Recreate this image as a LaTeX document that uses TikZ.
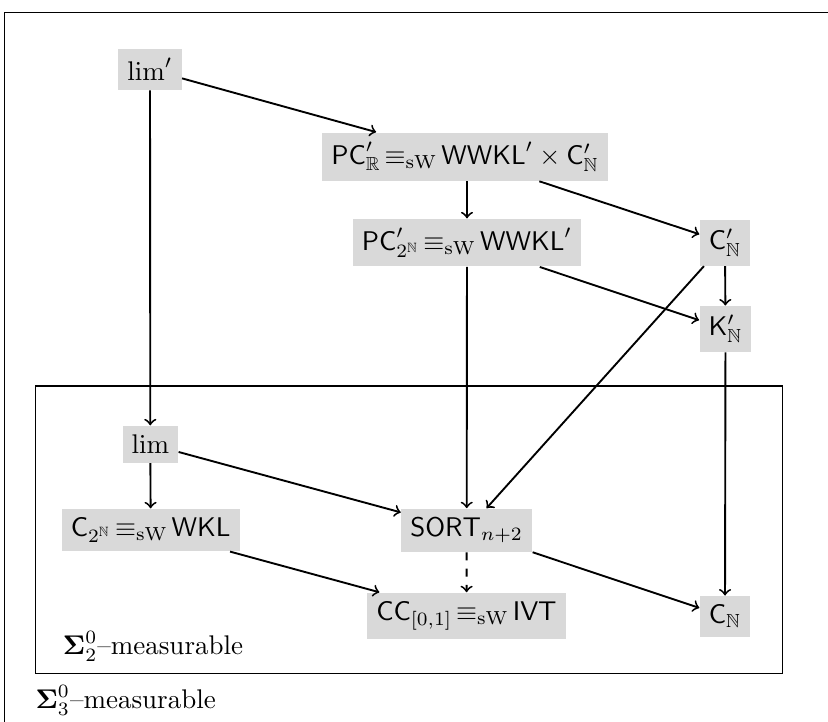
\documentclass[tikz,border=0pt]{standalone}
\usepackage{amsmath,amssymb}
\newcommand{\sweq}{\mkern2.5mu\mathord{\equiv_{\mathrm{sW}}}\mkern2.5mu}
\begin{document}
\begin{tikzpicture}[x=0.37037pt,y=-0.37037pt,
  box/.style={fill=black!15, inner sep=0.3333em},
  arr/.style={->, line width=0.7pt},
  frame/.style={line width=0.45pt},
  lab/.style={anchor=base west, inner sep=0pt}]
\useasboundingbox (0,0) rectangle (828,722);
\clip (0,0) rectangle (828,722);
\draw[frame] (4.7,12.7) rectangle (860,760);
\draw[frame] (35.3,386) rectangle (782.7,673.3);

\node[box] (limp) at (150,69.5) {$\lim'$};
\node[box] (pcr) at (465,156.7) {$\mathsf{PC}'_{\mathbb{R}} \sweq \mathsf{WWKL}' \times \mathsf{C}'_{\mathbb{N}}$};
\node[box] (pc2) at (467,242.7) {$\mathsf{PC}'_{2^{\mathbb{N}}} \sweq \mathsf{WWKL}'$};
\node[box] (cnp) at (725,242.7) {$\mathsf{C}'_{\mathbb{N}}$};
\node[box] (knp) at (725.5,329) {$\mathsf{K}'_{\mathbb{N}}$};
\node[box] (lim) at (150.3,444.3) {$\lim$};
\node[box] (c2) at (150.7,530) {$\mathsf{C}_{2^{\mathbb{N}}} \sweq \mathsf{WKL}$};
\node[box] (sort) at (466.7,530.3) {$\mathsf{SORT}_{n+2}$};
\node[box] (cc) at (466.5,616) {$\mathsf{CC}_{[0,1]} \sweq \mathsf{IVT}$};
\node[box] (cn) at (725,616.5) {$\mathsf{C}_{\mathbb{N}}$};

\node[lab] (l2) at (62.3,655) {$\boldsymbol{\Sigma}^0_2$--measurable};
\node[lab] (l3) at (35,709) {$\boldsymbol{\Sigma}^0_3$--measurable};

\draw[arr] (limp) -- (pcr);
\draw[arr] (limp) -- (lim);
\draw[arr] (pcr.south -| pc2) -- (pc2);
\draw[arr] (pcr) -- (cnp);
\draw[arr] (pc2) -- (knp);
\draw[arr] (pc2) -- (sort);
\draw[arr] (cnp) -- (knp);
\draw[arr] (cnp) -- (sort);
\draw[arr] (knp) -- (cn);
\draw[arr] (lim) -- (c2);
\draw[arr] (lim) -- (sort);
\draw[arr] (c2) -- (cc);
\draw[arr, dashed] (sort) -- (cc);
\draw[arr] (sort) -- (cn);
\end{tikzpicture}
\end{document}
